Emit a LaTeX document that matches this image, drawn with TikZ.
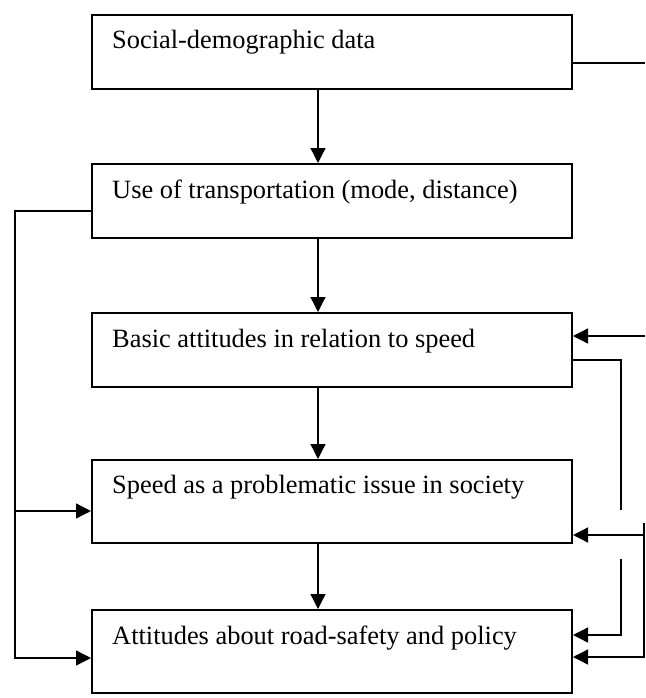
\documentclass[tikz,border=0pt]{standalone}
\usepackage{fontspec}
\setmainfont{Liberation Serif}
\usetikzlibrary{arrows.meta}
\begin{document}
\begin{tikzpicture}[x=1pt,y=-1pt,
  box/.style={draw, line width=2pt, minimum width=480pt, inner sep=0pt, anchor=north west},
  lbl/.style={anchor=base west, inner sep=0pt, font=\fontsize{26.4}{30}\selectfont},
  conn/.style={line width=1.3pt},
  arr/.style={conn, -{Triangle[length=15pt,width=15pt]}}]
\useasboundingbox (0,0) rectangle (645,698);
% boxes
\node[box, minimum height=74pt] (b1) at (91,14) {};
\node[box, minimum height=74pt] (b2) at (91,163) {};
\node[box, minimum height=74pt] (b3) at (91,312) {};
\node[box, minimum height=83pt] (b4) at (91,459) {};
\node[box, minimum height=83pt] (b5) at (91,609) {};
% labels
\node[lbl] (t1) at (112,49) {Social-demographic data};
\node[lbl] (t2) at (112,198) {Use of transportation (mode, distance)};
\node[lbl] (t3) at (112,347) {Basic attitudes in relation to speed};
\node[lbl] (t4) at (112,493) {Speed as a problematic issue in society};
\node[lbl] (t5) at (112,644) {Attitudes about road-safety and policy};
% vertical chain
\coordinate (ax) at (318,0);
\draw[arr] (b1.south -| ax) -- (b2.north -| ax);
\draw[arr] (b2.south -| ax) -- (b3.north -| ax);
\draw[arr] (b3.south -| ax) -- (b4.north -| ax);
\draw[arr] (b4.south -| ax) -- (b5.north -| ax);
% left feedback
\coordinate (l1) at (15,211);
\coordinate (l4) at (15,511);
\coordinate (l5) at (15,658);
\draw[arr] (b2.west |- l1) -- (l1) |- (b5.west |- l5);
\draw[arr] (l4) -- (b4.west |- l4);
% right side
\coordinate (r1) at (645,63);
\draw[conn] (b1.east |- r1) -- (r1);
\coordinate (r3) at (645,336);
\draw[arr] (r3) -- (b3.east |- r3);
\coordinate (m3) at (621,360);
\coordinate (m3e) at (621,510);
\draw[conn] (b3.east |- m3) -- (m3) -- (m3e);
\coordinate (r4) at (645,535);
\draw[arr] (r4) -- (b4.east |- r4);
\coordinate (m5s) at (621,559);
\coordinate (m5) at (621,635);
\draw[arr] (m5s) -- (m5) -- (b5.east |- m5);
\coordinate (r5s) at (644,523);
\coordinate (r5) at (644,657);
\draw[arr] (r5s) -- (r5) -- (b5.east |- r5);
\end{tikzpicture}
\end{document}
